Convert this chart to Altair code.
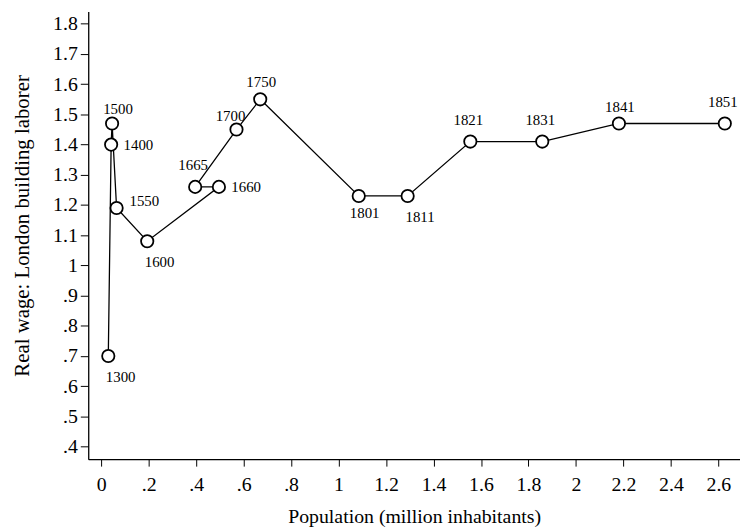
import altair as alt
import pandas as pd

# ---- data ----
years = ["1300", "1400", "1500", "1550", "1600", "1660", "1665", "1700", "1750",
         "1801", "1811", "1821", "1831", "1841", "1851"]
population = [0.030, 0.042, 0.046, 0.065, 0.194, 0.496, 0.396, 0.570, 0.670,
              1.085, 1.291, 1.555, 1.858, 2.181, 2.627]
real_wage = [0.70, 1.40, 1.47, 1.19, 1.08, 1.26, 1.26, 1.45, 1.55,
             1.23, 1.23, 1.41, 1.41, 1.47, 1.47]
# marker-label clock position (like Stata's mlabvposition)
label_pos = ["4", "3", "1", "2", "4", "3", "12", "11", "12s",
             "5", "4", "12", "12", "12s", "12"]

x_ticks = [0, 0.2, 0.4, 0.6, 0.8, 1.0, 1.2, 1.4, 1.6, 1.8, 2.0, 2.2, 2.4, 2.6]
y_ticks = [0.4, 0.5, 0.6, 0.7, 0.8, 0.9, 1.0, 1.1, 1.2, 1.3, 1.4, 1.5, 1.6, 1.7, 1.8]

df = pd.DataFrame({
    "year": years,
    "yr": [int(y) for y in years],
    "pop": population,
    "wage": real_wage,
    "pos": label_pos,
})

# ---- style ----
FONT = "Liberation Serif"
W, H = 658, 452
label_offsets = {
    "4": (12.5, 21), "3": (27.5, 0), "1": (6, -15), "2": (28, -7),
    "12": (-2, -22), "11": (-6, -14), "12s": (1, -17), "5": (6, 17),
}

lab_expr = ("datum.value == 0 ? '0' : (datum.value < 1 ? "
            "substring(format(datum.value, '.1f'), 1) : format(datum.value, '.1~f'))")

x_enc = alt.X("pop:Q",
              scale=alt.Scale(domain=[-0.0545, 2.691], nice=False, zero=False),
              axis=alt.Axis(values=x_ticks, labelExpr=lab_expr, grid=False,
                            labelOverlap=False, labelFlush=False,
                            title="Population (million inhabitants)",
                            tickSize=7, labelPadding=9, labelFontSize=20,
                            titleFontSize=20, titleX=W / 2, titleY=64,
                            titleBaseline="alphabetic", titleAnchor="middle"))
y_enc = alt.Y("wage:Q",
              scale=alt.Scale(domain=[0.358, 1.841], nice=False, zero=False),
              axis=alt.Axis(values=y_ticks, labelExpr=lab_expr, grid=False,
                            labelOverlap=False, labelFlush=False,
                            title="Real wage: London building laborer",
                            tickSize=8, labelPadding=3, labelFontSize=20,
                            titleFontSize=21, titleX=-60.7, titleY=216,
                            titleBaseline="alphabetic", titleAnchor="middle"))

base = alt.Chart(df)

line = base.mark_line(color="black", strokeWidth=1.3).encode(
    x=x_enc, y=y_enc, order=alt.Order("yr:Q"))

points = base.mark_point(shape="circle", filled=False, fill="white", fillOpacity=1,
                         stroke="black", strokeWidth=1.8, size=155, opacity=1).encode(
    x=x_enc, y=y_enc)

layers = [line, points]
for code, (dx, dy) in label_offsets.items():
    layers.append(
        base.transform_filter(alt.datum.pos == code).mark_text(
            font=FONT, fontSize=15, color="black", dx=dx, dy=dy,
            align="center", baseline="middle").encode(
            x=x_enc, y=y_enc, text="year:N"))

chart = alt.layer(*layers).properties(
    width=W, height=H,
    autosize=alt.AutoSizeParams(type="none"),
    padding={"left": 81, "top": 1, "right": 0, "bottom": 72},
).configure_view(stroke=None).configure_axis(
    labelFont=FONT, titleFont=FONT, labelColor="black", titleColor="black",
    titleFontWeight="normal", domainColor="black", domainWidth=1.3,
    tickColor="black", tickWidth=1,
)

chart.save("out.html", embed_options={"renderer": "svg", "actions": False})
